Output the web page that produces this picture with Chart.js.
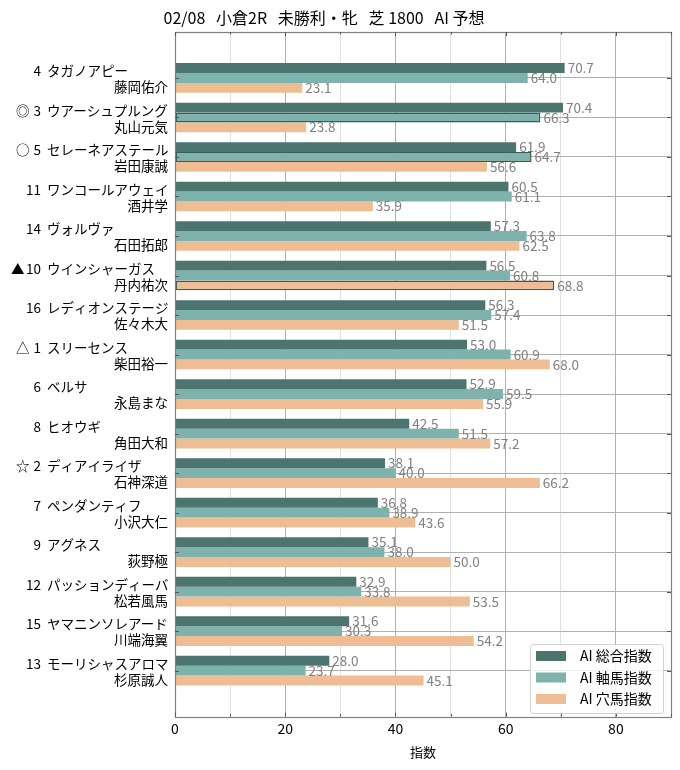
<!DOCTYPE html>
<html>
<head>
    <meta charset="utf-8">
    <title>02/08 小倉2R AI 予想</title>
    <script src="https://cdn.jsdelivr.net/npm/chart.js@4.4.1/dist/chart.umd.min.js"></script>
    <style>
        html, body { margin: 0; padding: 0; background: #fff; }
    </style>
</head>
<body>
    <canvas id="myChart" width="680" height="770"></canvas>

    <script>
        // race data (top to bottom)
        var marks = ['', '◎', '○', '', '', '▲', '', '△', '', '', '☆', '', '', '', '', ''];
        var numbers = [4, 3, 5, 11, 14, 10, 16, 1, 6, 8, 2, 7, 9, 12, 15, 13];
        var horses = ['タガノアピー', 'ウアーシュプルング', 'セレーネアステール', 'ワンコールアウェイ', 'ヴォルヴァ',
            'ウインシャーガス', 'レディオンステージ', 'スリーセンス', 'ベルサ', 'ヒオウギ', 'ディアイライザ',
            'ペンダンティフ', 'アグネス', 'パッションディーバ', 'ヤマニンソレアード', 'モーリシャスアロマ'];
        var jockeys = ['藤岡佑介', '丸山元気', '岩田康誠', '酒井学', '石田拓郎', '丹内祐次', '佐々木大', '柴田裕一',
            '永島まな', '角田大和', '石神深道', '小沢大仁', '荻野極', '松若風馬', '川端海翼', '杉原誠人'];
        var sogo = [70.7, 70.4, 61.9, 60.5, 57.3, 56.5, 56.3, 53.0, 52.9, 42.5, 38.1, 36.8, 35.1, 32.9, 31.6, 28.0];
        var jiku = [64.0, 66.3, 64.7, 61.1, 63.8, 60.8, 57.4, 60.9, 59.5, 51.5, 40.0, 38.9, 38.0, 33.8, 30.3, 23.7];
        var ana = [23.1, 23.8, 56.6, 35.9, 62.5, 68.8, 51.5, 68.0, 55.9, 57.2, 66.2, 43.6, 50.0, 53.5, 54.2, 45.1];
        var seriesNames = ['AI 総合指数', 'AI 軸馬指数', 'AI 穴馬指数'];
        var title = '02/08   小倉2R   未勝利・牝   芝 1800   AI 予想';

        var FONT = "'Noto Sans CJK JP', 'Noto Sans', sans-serif";
        var colors = ['#4c7570', '#7db3ac', '#eebd93'];
        var edgeColor = '#3a5c58';

        Chart.defaults.font.family = FONT;

        function toPoints(values) {
            return values.map(function (v, i) { return { x: v, y: i }; });
        }

        // ◎ / ○ highlight the 軸馬 bar, ▲ highlights the 穴馬 bar
        var jikuEdge = marks.map(function (m) { return (m === '◎' || m === '○') ? 1.5 : 0; });
        var anaEdge = marks.map(function (m) { return m === '▲' ? 1.5 : 0; });

        var decor = {
            id: 'decor',
            beforeDraw: function (chart) {
                var ctx = chart.ctx;
                ctx.save();
                ctx.fillStyle = '#fff';
                ctx.fillRect(0, 0, chart.width, chart.height);
                ctx.restore();
            },
            afterDraw: function (chart) {
                var ctx = chart.ctx;
                var a = chart.chartArea;
                var xs = chart.scales.x, ys = chart.scales.y;
                ctx.save();

                // value labels
                ctx.font = '13.5px ' + FONT;
                ctx.fillStyle = '#808080';
                ctx.textAlign = 'left';
                ctx.textBaseline = 'middle';
                chart.data.datasets.forEach(function (ds, di) {
                    chart.getDatasetMeta(di).data.forEach(function (bar, i) {
                        ctx.fillText(ds.data[i].x.toFixed(1), bar.x + 3, bar.y);
                    });
                });

                // frame
                ctx.strokeStyle = '#808080';
                ctx.lineWidth = 1.2;
                ctx.strokeRect(Math.round(a.left) + 0.5, Math.round(a.top) + 0.5,
                    Math.round(a.right - a.left), Math.round(a.bottom - a.top));

                // inward ticks
                ctx.strokeStyle = '#555';
                ctx.lineWidth = 1;
                ctx.beginPath();
                xs.ticks.forEach(function (t) {
                    var px = Math.round(xs.getPixelForValue(t.value)) + 0.5;
                    var len = t.value % 20 === 0 ? 4 : 2.5;
                    ctx.moveTo(px, a.bottom); ctx.lineTo(px, a.bottom - len);
                    ctx.moveTo(px, a.top); ctx.lineTo(px, a.top + len);
                });
                ys.ticks.forEach(function (t) {
                    var py = Math.round(ys.getPixelForValue(t.value)) + 0.5;
                    ctx.moveTo(a.left, py); ctx.lineTo(a.left + 4, py);
                    ctx.moveTo(a.right, py); ctx.lineTo(a.right - 4, py);
                });
                ctx.stroke();

                // y labels: mark + number + horse / jockey
                ctx.fillStyle = '#000';
                ctx.font = '13.5px ' + FONT;
                horses.forEach(function (h, i) {
                    var c = ys.getPixelForValue(i);
                    var y1 = c - 7, y2 = c + 9;
                    if (marks[i]) {
                        ctx.textAlign = 'left';
                        ctx.fillText(marks[i], marks[i] === '▲' ? 11 : 16, y1);
                    }
                    ctx.textAlign = 'right';
                    ctx.fillText(String(numbers[i]), 41, y1);
                    ctx.textAlign = 'left';
                    ctx.fillText(h, 47, y1);
                    ctx.textAlign = 'right';
                    ctx.fillText(jockeys[i], 168, y2);
                });

                // title
                ctx.font = '16px ' + FONT;
                ctx.textAlign = 'center';
                ctx.fillText(title, 324, 18);

                // legend
                var lx = 530, ly = 644, lw = 133, lh = 69;
                ctx.fillStyle = 'rgba(255,255,255,0.8)';
                ctx.strokeStyle = '#d0d0d0';
                ctx.lineWidth = 1;
                ctx.beginPath();
                ctx.roundRect(lx + 0.5, ly + 0.5, lw, lh, 3);
                ctx.fill();
                ctx.stroke();
                ctx.font = '14px ' + FONT;
                ctx.textAlign = 'left';
                seriesNames.forEach(function (name, k) {
                    var cy = ly + 12 + k * 21.5;
                    ctx.fillStyle = colors[k];
                    ctx.fillRect(lx + 6, cy - 5, 30, 10);
                    ctx.fillStyle = '#000';
                    ctx.fillText(name, lx + 50, cy);
                });

                ctx.restore();
            }
        };

        var ctx = document.getElementById('myChart');
        new Chart(ctx, {
            type: 'bar',
            data: {
                datasets: [
                    { label: seriesNames[0], data: toPoints(sogo), backgroundColor: colors[0], borderWidth: 0 },
                    { label: seriesNames[1], data: toPoints(jiku), backgroundColor: colors[1],
                      borderColor: edgeColor, borderWidth: jikuEdge, borderSkipped: false },
                    { label: seriesNames[2], data: toPoints(ana), backgroundColor: colors[2],
                      borderColor: edgeColor, borderWidth: anaEdge, borderSkipped: false }
                ]
            },
            options: {
                indexAxis: 'y',
                responsive: false,
                animation: false,
                devicePixelRatio: 1,
                categoryPercentage: 0.75,
                barPercentage: 1.0,
                layout: { padding: { left: 175, right: 9, top: 32, bottom: 5 } },
                plugins: { legend: { display: false }, tooltip: { enabled: false } },
                scales: {
                    x: {
                        type: 'linear', min: 0, max: 90,
                        ticks: {
                            stepSize: 10,
                            callback: function (v) { return v % 20 === 0 ? v : ''; },
                            font: { size: 14 }, color: '#000', padding: 4
                        },
                        grid: {
                            color: function (c) { return c.tick && c.tick.value % 20 === 0 ? '#b0b0b0' : '#e0e0e0'; },
                            drawTicks: false
                        },
                        border: { display: false },
                        title: { display: true, text: '指数', font: { size: 13 }, color: '#000', padding: { top: 3, bottom: 5 } },
                        z: 1
                    },
                    y: {
                        type: 'linear', reverse: true, min: -1.1625, max: 16.1625,
                        offset: false,
                        afterBuildTicks: function (axis) {
                            axis.ticks = horses.map(function (h, i) { return { value: i }; });
                        },
                        ticks: { display: false },
                        grid: { color: '#b0b0b0', drawTicks: false, offset: false },
                        border: { display: false },
                        z: 1
                    }
                }
            },
            plugins: [decor]
        });
    </script>
</body>
</html>
